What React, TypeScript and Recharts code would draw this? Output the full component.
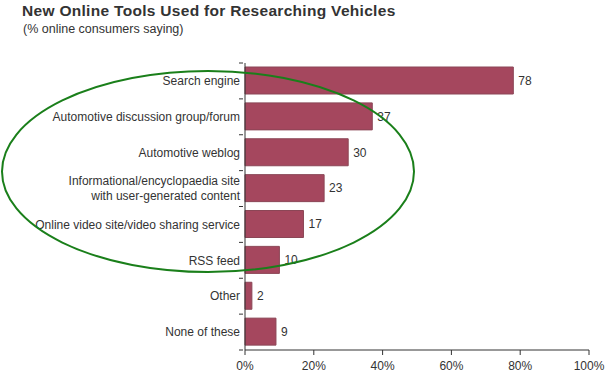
import React from "react";
import { BarChart, Bar, XAxis, YAxis, LabelList } from "recharts";

const categories = [
  "Search engine",
  "Automotive discussion group/forum",
  "Automotive weblog",
  "Informational/encyclopaedia site\nwith user-generated content",
  "Online video site/video sharing service",
  "RSS feed",
  "Other",
  "None of these",
];
const values = [78, 37, 30, 23, 17, 10, 2, 9];
const xTicks = [0, 20, 40, 60, 80, 100];

const data = categories.map((c, i) => ({ name: c, value: values[i] }));

const FONT = "'Liberation Sans', Arial, Helvetica, sans-serif";
const TEXT = "#333";

const CategoryTick = (props: any) => {
  const { x, y, payload, index } = props;
  const lines = String(payload.value).split("\n");
  const band = 35.875;
  const lh = 15;
  const start = -((lines.length - 1) * lh) / 2;
  return (
    <g>
      <line x1={x + 2} x2={x + 6} y1={y - band / 2} y2={y - band / 2} stroke="#333" strokeWidth={1} />
      {index === categories.length - 1 && (
        <line x1={x + 2} x2={x + 6} y1={y + band / 2} y2={y + band / 2} stroke="#333" strokeWidth={1} />
      )}
      <text x={x + 3} y={y} textAnchor="end" fontFamily={FONT} fontSize={12} fill={TEXT}>
        {lines.map((l, i) => (
          <tspan key={i} x={x + 3} y={y + start + i * lh} dy="0.35em">
            {l}
          </tspan>
        ))}
      </text>
    </g>
  );
};

export default function App() {
  return (
    <div style={{ position: "absolute", left: 0, top: 0, width: 605, height: 378, background: "#fff" }}>
      <div
        style={{
          position: "absolute",
          left: 22,
          top: 2,
          fontFamily: FONT,
          fontWeight: "bold",
          fontSize: 15.5,
          letterSpacing: 0.3,
          color: TEXT,
          whiteSpace: "nowrap",
        }}
      >
        New Online Tools Used for Researching Vehicles
      </div>
      <div
        style={{
          position: "absolute",
          left: 23,
          top: 22,
          fontFamily: FONT,
          fontSize: 12.5,
          color: TEXT,
          whiteSpace: "nowrap",
        }}
      >
        (% online consumers saying)
      </div>
      <BarChart
        width={605}
        height={378}
        data={data}
        layout="vertical"
        margin={{ top: 63, right: 16, bottom: 0, left: 0 }}
      >
        <XAxis
          type="number"
          domain={[0, 100]}
          ticks={xTicks}
          tickFormatter={(v) => `${v}%`}
          height={28}
          axisLine={{ stroke: "#333" }}
          tickLine={{ stroke: "#333" }}
          tickSize={5}
          tickMargin={6}
          tick={{ fontFamily: FONT, fontSize: 12, fill: TEXT }}
        />
        <YAxis
          type="category"
          dataKey="name"
          width={245}
          axisLine={{ stroke: "#333" }}
          tickLine={false}
          tick={<CategoryTick />}
          interval={0}
        />
        <Bar dataKey="value" fill="#a5475e" stroke="#8b4656" strokeWidth={1} barSize={27} isAnimationActive={false}>
          <LabelList dataKey="value" position="right" offset={5} fontFamily={FONT} fontSize={12} fill={TEXT} />
        </Bar>
      </BarChart>
      <svg
        width={605}
        height={378}
        style={{ position: "absolute", left: 0, top: 0, pointerEvents: "none" }}
      >
        <ellipse cx={208} cy={171.5} rx={206} ry={100.5} fill="none" stroke="#1a7f1a" strokeWidth={2} />
      </svg>
    </div>
  );
}
